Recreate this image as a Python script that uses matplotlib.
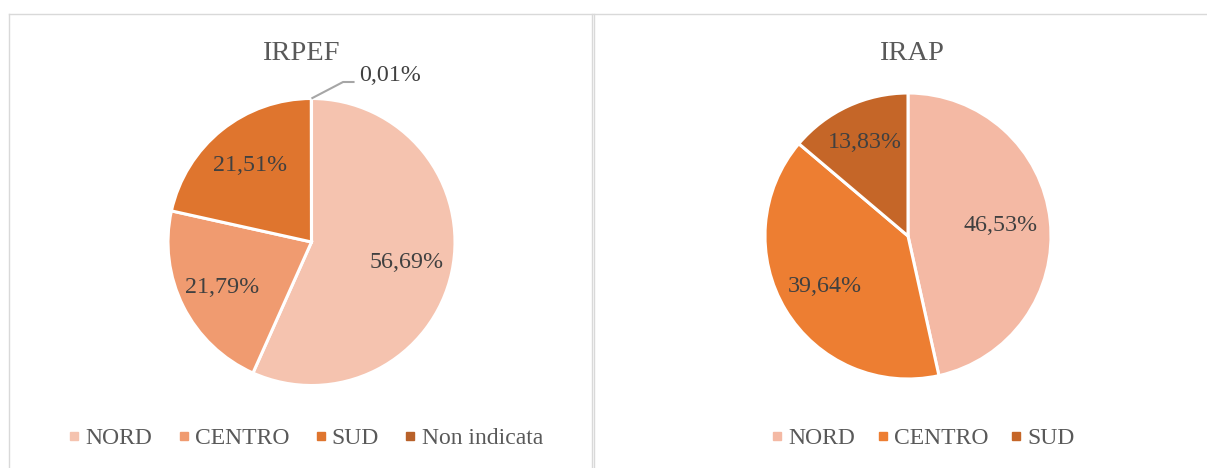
import numpy as np
import matplotlib.pyplot as plt
from matplotlib.lines import Line2D

# dati
categorie_irpef = ["NORD", "CENTRO", "SUD", "Non indicata"]
valori_irpef = [56.69, 21.79, 21.51, 0.01]
colori_irpef = ["#F5C3AF", "#F09B70", "#DF752E", "#B8612A"]

categorie_irap = ["NORD", "CENTRO", "SUD"]
valori_irap = [46.53, 39.64, 13.83]
colori_irap = ["#F4B9A4", "#ED7E32", "#C56628"]

W, H = 1207, 468
plt.rcParams['font.family'] = ['Liberation Serif', 'DejaVu Serif']

fig = plt.figure(figsize=(W / 100, H / 100), dpi=100)
fig.patch.set_facecolor('white')


def fmt(v):
    return f"{v:.2f}%".replace('.', ',')


def px_axes(cx, cy, r):
    return fig.add_axes([(cx - r) / W, (H - cy - r) / H, 2 * r / W, 2 * r / H])


def disegna_torta(ax, valori, colori, interni):
    wedges, _ = ax.pie(valori, colors=colori, startangle=90, counterclock=False,
                       wedgeprops=dict(edgecolor='white', linewidth=2.2))
    ax.set_xlim(-1, 1)
    ax.set_ylim(-1, 1)
    ax.set_aspect('equal')
    ax.axis('off')
    for w, v, d in zip(wedges, valori, interni):
        if d is None:
            continue
        ang = np.deg2rad((w.theta1 + w.theta2) / 2)
        ax.text(d * np.cos(ang), d * np.sin(ang), fmt(v), ha='center', va='center',
                fontsize=17.3, color='#404040')
    return wedges


# pannelli (bordi)
bordo = '#D9D9D9'
for x0, x1, y0, y1 in [(8.5, 8.5, 13.5, H), (8.5, W, 13.5, 13.5),
                       (591.5, 591.5, 13.5, H), (593.5, 593.5, 13.5, H)]:
    fig.add_artist(Line2D([x0 / W, x1 / W], [1 - y0 / H, 1 - y1 / H],
                          color=bordo, lw=1.0, transform=fig.transFigure))

# IRPEF
ax1 = px_axes(311.5, 242, 143.5)
w1 = disegna_torta(ax1, valori_irpef, colori_irpef, [0.68, 0.70, 0.68, None])
ang = np.deg2rad((w1[3].theta1 + w1[3].theta2) / 2)
ax1.plot([np.cos(ang), 0.22, 0.30], [np.sin(ang), 1.115, 1.115], color='#A6A6A6',
         lw=1.5, clip_on=False, solid_capstyle='butt')
ax1.text(0.33, 1.16, fmt(valori_irpef[3]), ha='left', va='center', fontsize=17.3,
         color='#404040', clip_on=False)
fig.text(301 / W, 1 - 53 / H, "IRPEF", ha='center', va='center', fontsize=20.5, color='#595959')

# IRAP
ax2 = px_axes(908, 236, 143)
disegna_torta(ax2, valori_irap, colori_irap, [0.65, 0.68, 0.72])
fig.text(911 / W, 1 - 53 / H, "IRAP", ha='center', va='center', fontsize=20.5, color='#595959')


def legenda(categorie, colori, cx, spazio):
    handles = [Line2D([], [], marker='s', linestyle='none', markersize=5.8,
                      markerfacecolor=c, markeredgecolor=c) for c in colori]
    fig.legend(handles, categorie, loc='center', bbox_to_anchor=(cx / W, 1 - 438 / H),
               ncol=len(categorie), frameon=False, fontsize=17, handlelength=0.35,
               handletextpad=0.3, columnspacing=spazio, borderpad=0, labelcolor='#595959')


legenda(categorie_irpef, colori_irpef, 306.5, 1.15)
legenda(categorie_irap, colori_irap, 924, 1.0)

fig.savefig('out.png', dpi=100, facecolor='white')
